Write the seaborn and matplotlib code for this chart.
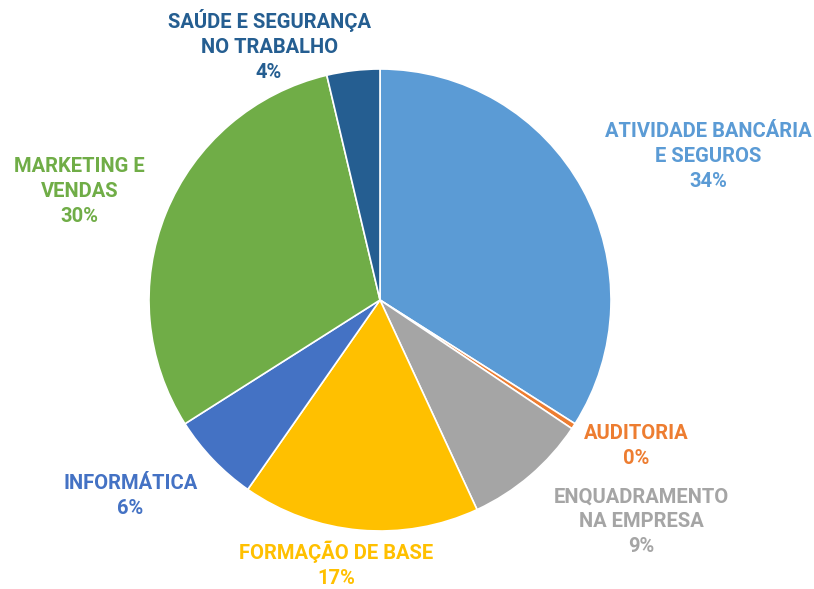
import matplotlib
matplotlib.use('Agg')
import matplotlib.pyplot as plt
import seaborn as sns

# data (share of training hours)
CATEGORIES = ['ATIVIDADE BANCÁRIA\nE SEGUROS', 'AUDITORIA', 'ENQUADRAMENTO\nNA EMPRESA',
              'FORMAÇÃO DE BASE', 'INFORMÁTICA', 'MARKETING E\nVENDAS',
              'SAÚDE E SEGURANÇA\nNO TRABALHO']
VALUES = [34.0, 0.4, 8.7, 16.6, 6.3, 30.3, 3.7]
COLORS = ['#5B9BD5', '#ED7D31', '#A5A5A5', '#FFC000', '#4472C4', '#70AD47', '#255E91']

# label anchor positions (in pie radius units)
LABEL_POS = [(1.42, 0.62), (1.11, -0.63), (1.13, -0.96), (-0.19, -1.145),
             (-1.08, -0.85), (-1.30, 0.47), (-0.48, 1.10)]

sns.set_theme(style='white')
plt.rcParams['font.family'] = ['Roboto', 'DejaVu Sans']

palette = sns.color_palette(COLORS)

fig = plt.figure(figsize=(8.14, 5.89), dpi=100)
r = 231
ax = fig.add_axes([(380 - r) / 814, (589 - 300 - r) / 589, 2 * r / 814, 2 * r / 589])

ax.pie(VALUES, colors=palette, startangle=90, counterclock=False, radius=1,
       wedgeprops=dict(edgecolor='white', linewidth=1.2))
ax.set_xlim(-1, 1)
ax.set_ylim(-1, 1)
ax.set_aspect('equal')

total = sum(VALUES)
for cat, val, col, (x, y) in zip(CATEGORIES, VALUES, palette, LABEL_POS):
    pct = round(val / total * 100)
    ax.text(x, y, f'{cat}\n{pct}%', color=col, fontsize=14.5, fontweight='bold',
            ha='center', va='center', linespacing=1.4, clip_on=False)

fig.savefig('out.png', dpi=100)
